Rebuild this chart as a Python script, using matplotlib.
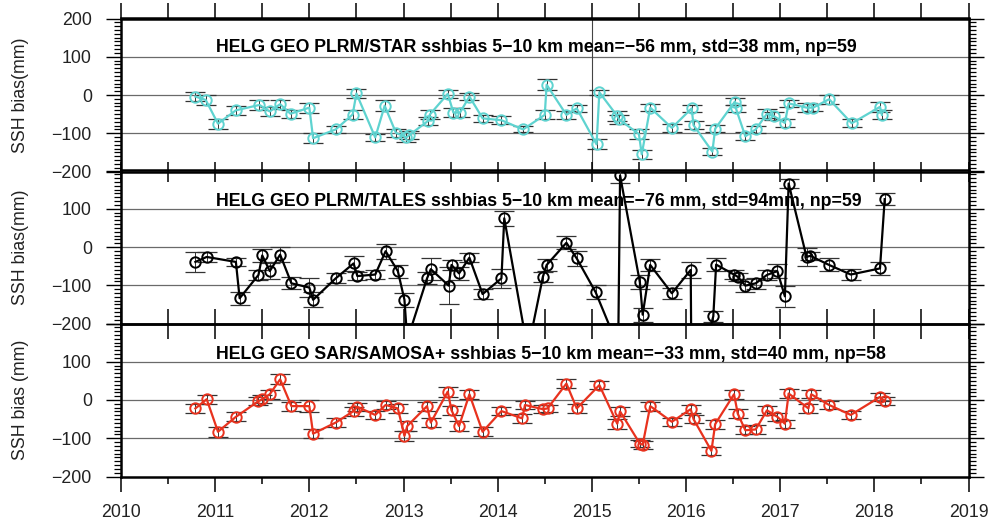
import numpy as np
import matplotlib
matplotlib.use('Agg')
import matplotlib.pyplot as plt
from matplotlib.ticker import MultipleLocator

plt.rcParams['font.family'] = ['Liberation Sans', 'DejaVu Sans']

# PLRM/STAR
t_star = [2010.79, 2010.90, 2011.03, 2011.22, 2011.47, 2011.58, 2011.69, 2011.80, 2012.00, 2012.04,
          2012.28, 2012.46, 2012.50, 2012.70, 2012.80, 2012.92, 2013.03, 2013.06, 2013.26, 2013.28,
          2013.47, 2013.53, 2013.60, 2013.70, 2013.84, 2014.04, 2014.27, 2014.50, 2014.52, 2014.73,
          2014.84, 2015.05, 2015.08, 2015.27, 2015.29, 2015.50, 2015.53, 2015.62, 2015.85, 2016.06,
          2016.08, 2016.28, 2016.31, 2016.52, 2016.53, 2016.63, 2016.74, 2016.86, 2016.93, 2017.05,
          2017.09, 2017.28, 2017.35, 2017.52, 2017.76, 2018.06, 2018.08]
v_star = [-4, -13, -75, -40, -26, -43, -24, -49, -33, -113,
          -90, -51, 4, -111, -28, -99, -111, -105, -68, -51,
          3, -46, -46, -4, -61, -66, -90, -52, 27, -52,
          -35, -129, 7, -55, -64, -102, -155, -33, -86, -35,
          -79, -148, -88, -17, -35, -108, -90, -49, -55, -73,
          -22, -33, -33, -11, -74, -31, -52]
e_star = [12, 12, 13, 11, 12, 11, 12, 11, 13, 13,
          10, 12, 12, 10, 15, 10, 12, 11, 10, 11,
          11, 12, 11, 10, 10, 10, 8, 12, 14, 10,
          10, 13, 6, 12, 12, 12, 12, 10, 10, 10,
          10, 10, 9, 10, 10, 10, 10, 12, 10, 10,
          10, 12, 10, 12, 10, 13, 12]

# PLRM/TALES
t_tales = [2010.79, 2010.91, 2011.22, 2011.26, 2011.46, 2011.50, 2011.58, 2011.69, 2011.81, 2012.00,
           2012.04, 2012.28, 2012.47, 2012.51, 2012.70, 2012.81, 2012.94, 2013.01, 2013.04, 2013.25,
           2013.29, 2013.48, 2013.51, 2013.59, 2013.70, 2013.84, 2014.04, 2014.07, 2014.32, 2014.48,
           2014.52, 2014.73, 2014.84, 2015.04, 2015.28, 2015.30, 2015.51, 2015.54, 2015.62, 2015.85,
           2016.05, 2016.06, 2016.29, 2016.32, 2016.51, 2016.55, 2016.63, 2016.74, 2016.86, 2016.97,
           2017.05, 2017.09, 2017.28, 2017.32, 2017.52, 2017.75, 2018.06, 2018.11]
v_tales = [-39, -26, -39, -134, -73, -22, -63, -20, -95, -106,
           -138, -82, -43, -76, -72, -11, -63, -138, -243, -82,
           -58, -101, -47, -69, -28, -123, -82, 75, -271, -78,
           -47, 11, -30, -118, -261, 187, -92, -177, -47, -121,
           -60, -400, -181, -46, -72, -78, -101, -95, -73, -63,
           -129, 166, -26, -23, -47, -72, -56, 125]
e_tales = [27, 13, 10, 17, 13, 18, 20, 20, 16, 25,
           20, 13, 20, 11, 11, 20, 17, 19, 20, 16,
           28, 48, 14, 17, 12, 14, 25, 20, 20, 13,
           16, 17, 19, 19, 20, 20, 18, 18, 16, 15,
           22, 20, 14, 16, 11, 11, 17, 15, 13, 18,
           28, 13, 24, 11, 17, 14, 16, 15]

# SAR/SAMOSA+
t_sam = [2010.79, 2010.91, 2011.03, 2011.22, 2011.46, 2011.50, 2011.58, 2011.69, 2011.81, 2012.00,
         2012.04, 2012.28, 2012.47, 2012.51, 2012.70, 2012.81, 2012.94, 2013.01, 2013.04, 2013.25,
         2013.29, 2013.47, 2013.51, 2013.59, 2013.70, 2013.84, 2014.04, 2014.26, 2014.29, 2014.48,
         2014.53, 2014.73, 2014.84, 2015.08, 2015.27, 2015.30, 2015.51, 2015.54, 2015.62, 2015.85,
         2016.05, 2016.08, 2016.27, 2016.31, 2016.51, 2016.55, 2016.63, 2016.74, 2016.86, 2016.97,
         2017.05, 2017.09, 2017.30, 2017.33, 2017.52, 2017.75, 2018.06, 2018.11]
v_sam = [-22, 2, -83, -44, -3, 2, 15, 54, -16, -16,
         -88, -59, -29, -18, -39, -13, -22, -94, -68, -16,
         -59, 22, -27, -68, 15, -83, -29, -48, -13, -24,
         -22, 43, -22, 39, -62, -30, -114, -117, -16, -57,
         -24, -50, -133, -63, 15, -36, -79, -77, -27, -44,
         -62, 17, -22, 15, -13, -39, 8, -3]
e_sam = [12, 12, 13, 12, 11, 10, 12, 13, 12, 16,
         12, 11, 12, 11, 10, 11, 12, 12, 12, 12,
         12, 13, 12, 12, 12, 12, 10, 11, 10, 11,
         10, 12, 12, 11, 13, 12, 10, 10, 12, 11,
         11, 11, 11, 12, 12, 12, 11, 11, 11, 11,
         11, 11, 11, 11, 10, 10, 10, 10]

years = list(range(2010, 2020))
titles = ['HELG GEO PLRM/STAR sshbias 5\u221210 km mean=\u221256 mm, std=38 mm, np=59',
          'HELG GEO PLRM/TALES sshbias 5\u221210 km mean=\u221276 mm, std=94mm, np=59',
          'HELG GEO SAR/SAMOSA+ sshbias 5\u221210 km mean=\u221233 mm, std=40 mm, np=58']
ylabels = ['SSH bias(mm)', 'SSH bias(mm)', 'SSH bias (mm)']
colors = ['#5fd3d0', 'black', '#e8321e']
series = [(t_star, v_star, e_star), (t_tales, v_tales, e_tales), (t_sam, v_sam, e_sam)]

W, H = 1005, 527
fig = plt.figure(figsize=(W / 100, H / 100), dpi=100)
x0, x1 = 121, 968.5
tops = [18.5, 170.5, 323.5]
ph = 153

yt = [-200, -100, 0, 100, 200]
for i in range(3):
    t, v, e = series[i]
    ax = fig.add_axes([x0 / W, 1 - (tops[i] + ph) / H, (x1 - x0) / W, ph / H])
    ax.set_facecolor('none')
    ax.set_xlim(2010, 2019)
    ax.set_ylim(-200, 200)

    for y in (-100, 0, 100):
        ax.axhline(y, color='#6a6a6a', lw=0.9, zorder=1)
    if i == 0:
        ax.axvline(2015, color='#444444', lw=0.8, zorder=1)

    ax.errorbar(t, v, yerr=e, fmt='none', ecolor='#333333', elinewidth=0.7,
                capsize=7, capthick=0.9, zorder=2)
    ax.plot(t, v, '-o', color=colors[i], lw=1.6, ms=7.5, mfc='none', mew=1.4, zorder=3)

    ax.text(2011.01, 106 if i else 112, titles[i], fontsize=12.8, fontweight='bold',
            va='baseline', ha='left', zorder=4)

    for sp in ax.spines.values():
        sp.set_linewidth(1.8)

    # y rulers on both sides
    ax.set_yticks(yt)
    lab = ['\u2212200', '\u2212100', '0', '100', '200' if i == 0 else '']
    ax.set_yticklabels(lab)
    ax.yaxis.set_minor_locator(MultipleLocator(10))
    ax.tick_params(axis='y', which='both', left=True, right=True, labelleft=True,
                   labelright=False, direction='out', width=1.0)
    ax.tick_params(axis='y', which='major', length=11, pad=10, labelsize=12.8,
                   labelcolor='#222222')
    ax.tick_params(axis='y', which='minor', length=5, width=0.9)

    # x ticks
    if i < 2:
        ax.xaxis.set_major_locator(MultipleLocator(0.5))
        ax.tick_params(axis='x', which='both', top=False, bottom=True, labelbottom=False,
                       direction='inout', length=15 if i == 0 else 22, width=1.1)
    else:
        ax.set_xticks(years)
        ax.set_xticklabels([str(y) for y in years])
        ax.xaxis.set_minor_locator(MultipleLocator(0.5))
        ax.tick_params(axis='x', which='both', top=False, bottom=True, direction='out', width=1.1)
        ax.tick_params(axis='x', which='major', length=11, pad=9, labelsize=12.8,
                       labelcolor='#222222')
        ax.tick_params(axis='x', which='minor', length=5)
    if i == 0:
        sec = ax.secondary_xaxis('top')
        sec.xaxis.set_major_locator(MultipleLocator(0.5))
        sec.tick_params(direction='out', length=11, width=1.1, labeltop=False)
        sec.spines['top'].set_linewidth(1.8)

    fig.text(20.5 / W, 1 - (tops[i] + ph / 2) / H, ylabels[i], rotation=90,
             ha='center', va='center', fontsize=12.8, color='#222222')

fig.savefig('out.png', dpi=100)
